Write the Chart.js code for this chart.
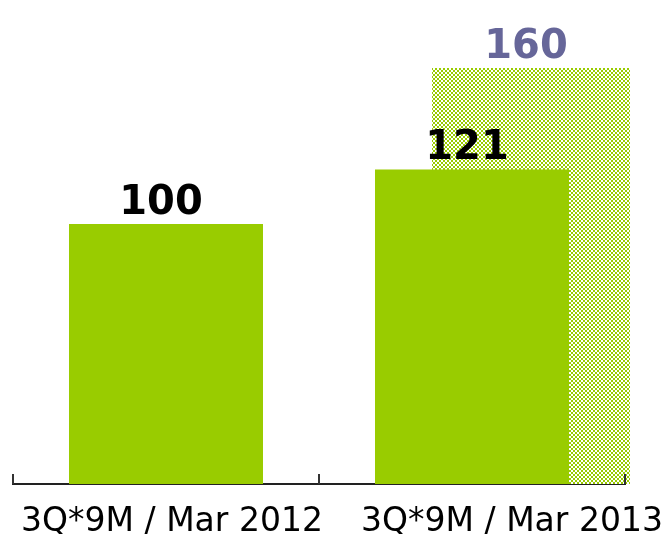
<!DOCTYPE html>
<html>
<head>
<meta charset="utf-8">
<script src="https://cdn.jsdelivr.net/npm/chart.js@4.4.1/dist/chart.umd.min.js"></script>
<style>
  html, body { margin: 0; padding: 0; background: #fff; }
  #wrap { width: 665px; height: 534px; }
</style>
</head>
<body>
<div id="wrap"><canvas id="chart" width="665" height="534"></canvas></div>
<script>
const categories = ['3Q*9M / Mar 2012', '3Q*9M / Mar 2013']
const actualValues = [100, 121]
const targetValues = [null, 160]

const GREEN = '#99cc00'
const TARGET_SHIFT = 59 // target bar sits right of its category centre
const labelShift = [6, 40]

function checker() {
  const c = document.createElement('canvas')
  c.width = 4
  c.height = 4
  const g = c.getContext('2d')
  g.fillStyle = '#ffffff'
  g.fillRect(0, 0, 4, 4)
  g.fillStyle = GREEN
  g.fillRect(0, 0, 2, 2)
  g.fillRect(2, 2, 2, 2)
  return g.createPattern(c, 'repeat')
}

const canvas = document.getElementById('chart')

new Chart(canvas, {
  type: 'bar',
  data: {
    labels: categories,
    datasets: [
      {
        label: 'Actual',
        data: actualValues,
        backgroundColor: GREEN,
        grouped: false,
        categoryPercentage: 1,
        barPercentage: 0.634,
        valueColor: '#000000',
      },
      {
        label: 'Target',
        data: targetValues,
        backgroundColor: checker(),
        grouped: false,
        categoryPercentage: 1,
        barPercentage: 0.647,
        valueColor: '#666699',
      },
    ],
  },
  options: {
    responsive: false,
    animation: false,
    layout: { padding: { left: 13, right: 40, top: 16, bottom: 50 } },
    plugins: { legend: { display: false }, tooltip: { enabled: false } },
    scales: {
      x: {
        grid: { display: false, drawTicks: false },
        border: { display: true, color: '#222', width: 2 },
        ticks: { display: false },
      },
      y: { display: false, min: 0, max: 180 },
    },
  },
  plugins: [
    {
      id: 'shiftTarget',
      beforeDatasetDraw(chart, args) {
        if (args.index !== 1) return
        chart.ctx.save()
        chart.ctx.translate(TARGET_SHIFT, 0)
      },
      afterDatasetDraw(chart, args) {
        if (args.index !== 1) return
        chart.ctx.restore()
      },
    },
    {
      id: 'axisDecor',
      afterDraw(chart) {
        const { ctx, scales, chartArea, data } = chart
        const x = scales.x
        const n = data.labels.length
        ctx.save()
        // tick marks pointing up
        ctx.strokeStyle = '#333'
        ctx.lineWidth = 2
        for (let i = 0; i <= n; i++) {
          const px = Math.round(x.left + (i * (x.right - x.left)) / n)
          ctx.beginPath()
          ctx.moveTo(px, chartArea.bottom - 10)
          ctx.lineTo(px, chartArea.bottom)
          ctx.stroke()
        }
        // category labels
        ctx.fillStyle = '#000'
        ctx.font = '33px "DejaVu Sans"'
        ctx.textAlign = 'center'
        ctx.textBaseline = 'alphabetic'
        data.labels.forEach((lab, i) => {
          ctx.fillText(lab, x.getPixelForValue(i) + labelShift[i], chartArea.bottom + 47)
        })
        // value labels
        ctx.font = 'bold 40px "DejaVu Sans"'
        data.datasets.forEach((ds, di) => {
          const meta = chart.getDatasetMeta(di)
          const dx = di === 1 ? TARGET_SHIFT : 0
          meta.data.forEach((bar, i) => {
            const v = ds.data[i]
            if (v == null) return
            ctx.fillStyle = ds.valueColor
            ctx.fillText(String(v), bar.x + dx - 5, bar.y - 10)
          })
        })
        ctx.restore()
      },
    },
  ],
})
</script>
</body>
</html>
